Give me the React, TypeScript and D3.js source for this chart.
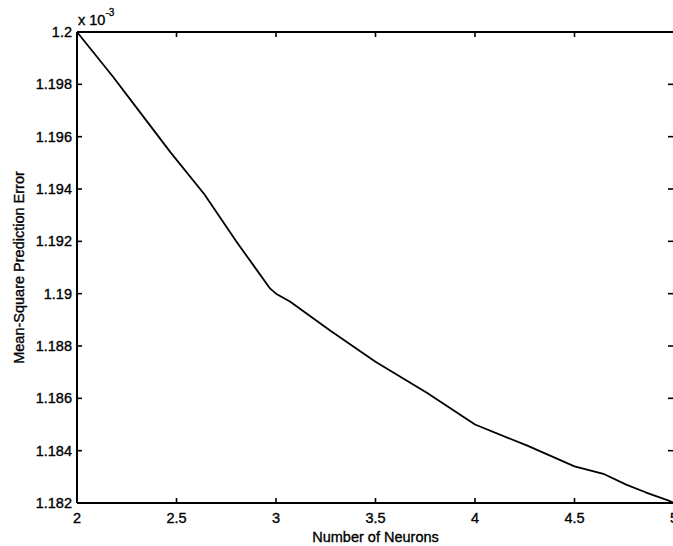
import React from "react";
import * as d3 from "d3";

// Mean-square prediction error (×10^-3) versus number of neurons
const neurons = [2, 2.18, 2.32, 2.47, 2.64, 2.8, 2.97, 3, 3.07, 3.27, 3.5, 3.76, 4, 4.26, 4.5, 4.65, 4.76, 4.86, 4.97, 5];
const mse = [1.2, 1.1983, 1.1969, 1.1954, 1.1938, 1.1920, 1.1902, 1.19, 1.1897, 1.1886, 1.1874, 1.1862, 1.185, 1.1842, 1.1834, 1.1831, 1.1827, 1.1824, 1.1821, 1.182];

const xTicks = [2, 2.5, 3, 3.5, 4, 4.5, 5];
const xTickLabels = ["2", "2.5", "3", "3.5", "4", "4.5", "5"];
const yTicks = [1.182, 1.184, 1.186, 1.188, 1.19, 1.192, 1.194, 1.196, 1.198, 1.2];
const yTickLabels = ["1.182", "1.184", "1.186", "1.188", "1.19", "1.192", "1.194", "1.196", "1.198", "1.2"];

const W = 673;
const H = 546;
const left = 77;
const right = 674;
const top = 32;
const bottom = 503;
const FONT = "'Liberation Sans', Arial, Helvetica, sans-serif";

export default function App() {
  const x = d3.scaleLinear().domain([2, 5]).range([left, right]);
  const y = d3.scaleLinear().domain([1.182, 1.2]).range([bottom, top]);
  const pts: [number, number][] = neurons.map((n, i) => [n, mse[i]]);
  const line = d3
    .line<[number, number]>()
    .x((d) => x(d[0]))
    .y((d) => y(d[1]));
  const tick = 5;
  const textStyle = { fontFamily: FONT, fontSize: 14.5, fill: "#000", stroke: "#000", strokeWidth: 0.35 };

  return (
    <svg
      width={W}
      height={H}
      viewBox={`0 0 ${W} ${H}`}
      style={{ position: "absolute", left: 0, top: 0, background: "#fff" }}
    >
      <rect x={0} y={0} width={W} height={H} fill="#fff" />
      {/* axes box */}
      <g stroke="#000" strokeWidth={2} fill="none">
        <line x1={left} y1={top} x2={right} y2={top} />
        <line x1={left} y1={bottom} x2={right} y2={bottom} />
        <line x1={left} y1={top} x2={left} y2={bottom} />
        <line x1={right} y1={top} x2={right} y2={bottom} />
      </g>
      {/* ticks pointing inward on all four sides */}
      <g stroke="#000" strokeWidth={1.6}>
        {xTicks.map((t) => (
          <g key={`xt${t}`}>
            <line x1={x(t)} y1={bottom} x2={x(t)} y2={bottom - tick} />
            <line x1={x(t)} y1={top} x2={x(t)} y2={top + tick} />
          </g>
        ))}
        {yTicks.map((t) => (
          <g key={`yt${t}`}>
            <line x1={left} y1={y(t)} x2={left + tick} y2={y(t)} />
            <line x1={right} y1={y(t)} x2={right - tick - 1} y2={y(t)} />
          </g>
        ))}
      </g>
      {/* data line */}
      <path d={line(pts) ?? ""} fill="none" stroke="#000" strokeWidth={1.8} strokeLinejoin="round" />
      {/* tick labels */}
      <g style={textStyle}>
        {xTicks.map((t, i) => (
          <text key={`xl${t}`} x={x(t)} y={523} textAnchor="middle">
            {xTickLabels[i]}
          </text>
        ))}
        {yTicks.map((t, i) => (
          <text key={`yl${t}`} x={72} y={y(t)} dy="0.35em" textAnchor="end">
            {yTickLabels[i]}
          </text>
        ))}
      </g>
      {/* exponent */}
      <text x={78} y={25} style={textStyle}>
        x 10
        <tspan dy={-9} fontSize={10}>-3</tspan>
      </text>
      {/* axis titles */}
      <text x={(left + right) / 2} y={542} textAnchor="middle" style={textStyle}>
        Number of Neurons
      </text>
      <text
        transform={`translate(24, ${(top + bottom) / 2}) rotate(-90)`}
        textAnchor="middle"
        style={textStyle}
      >
        Mean-Square Prediction Error
      </text>
    </svg>
  );
}
